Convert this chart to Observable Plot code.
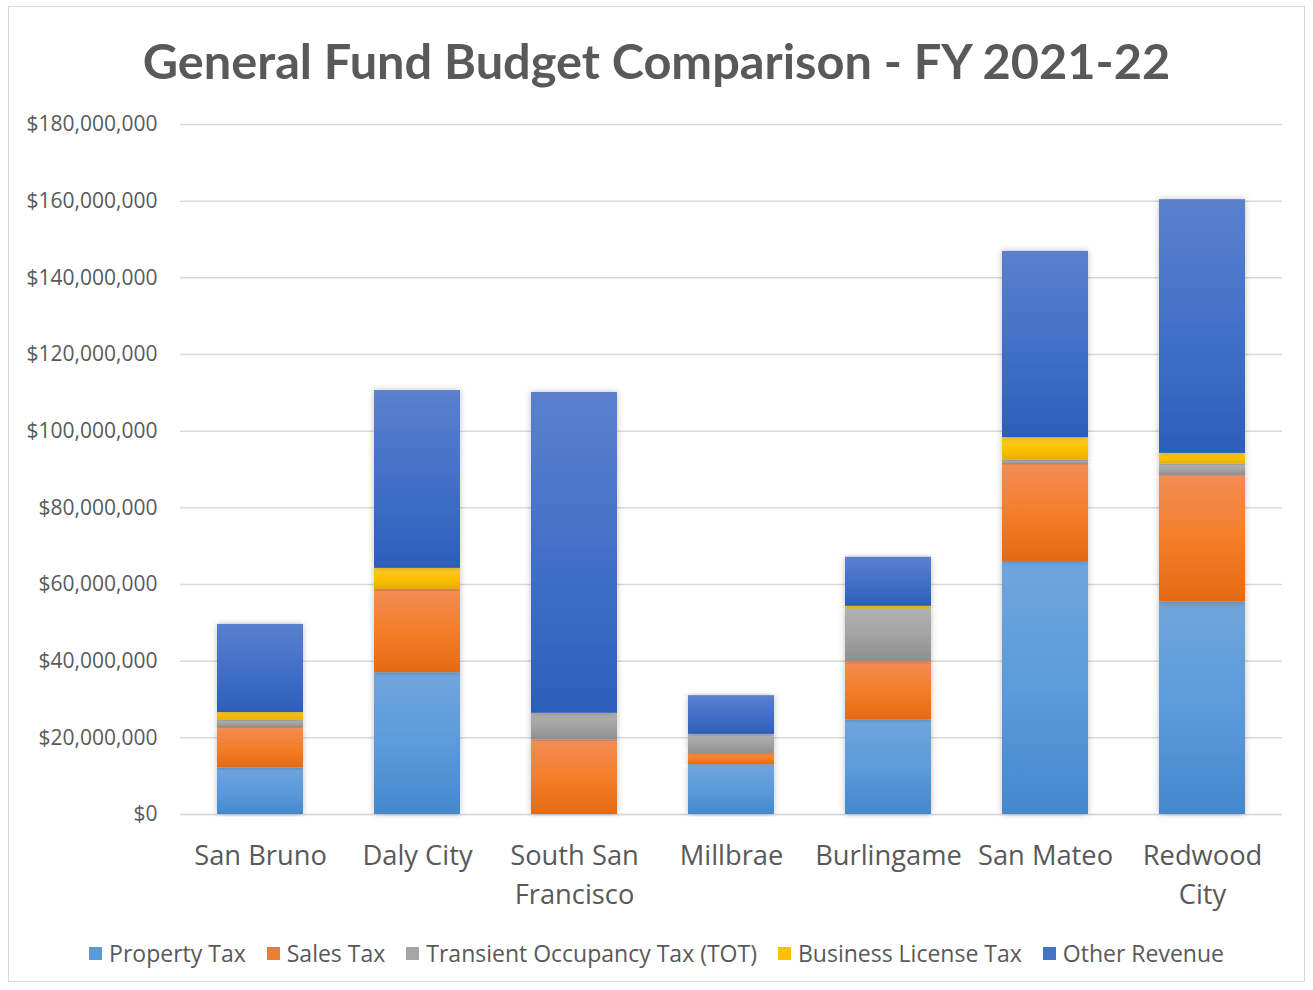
<!DOCTYPE html>
<html>
<head>
<meta charset="utf-8">
<script src="https://cdn.jsdelivr.net/npm/d3@7"></script>
<script src="https://cdn.jsdelivr.net/npm/@observablehq/plot@0.6"></script>
<style>
  html, body { margin: 0; padding: 0; background: #fff; }
  #wrap { position: relative; width: 1297px; height: 976px; margin: 6px 0 0 8px; border: 1.5px solid #d9d9d9; box-sizing: border-box; overflow: hidden; }
  #title { position: absolute; left: 0; right: 0; top: 29px; text-align: center; font-family: Lato, "Open Sans", sans-serif; font-weight: 700; font-size: 48.7px; color: #595959; line-height: 1; }
  #chart { position: absolute; left: -9.5px; top: -7.5px; width: 1313px; height: 990px; }
  #chart svg { max-width: none !important; }
  #legend { position: absolute; left: 0; right: 0; top: 930px; display: flex; justify-content: center; gap: 21px; font-family: "Open Sans", Lato, sans-serif; font-size: 23px; color: #595959; }
  #legend .item { display: flex; align-items: center; gap: 7px; }
  #legend .sw { width: 13px; height: 13px; display: inline-block; }
</style>
</head>
<body>
<svg width="0" height="0" style="position:absolute">
  <defs>
    <linearGradient id="gProp" x1="0" y1="0" x2="0" y2="1">
      <stop offset="0" stop-color="#70a5dc"/><stop offset="0.5" stop-color="#5b9bdc"/><stop offset="1" stop-color="#4588cc"/>
    </linearGradient>
    <linearGradient id="gSales" x1="0" y1="0" x2="0" y2="1">
      <stop offset="0" stop-color="#f28d55"/><stop offset="0.5" stop-color="#f47e2a"/><stop offset="1" stop-color="#e46a14"/>
    </linearGradient>
    <linearGradient id="gTot" x1="0" y1="0" x2="0" y2="1">
      <stop offset="0" stop-color="#b2b2b2"/><stop offset="0.5" stop-color="#a3a3a3"/><stop offset="1" stop-color="#8e8e8e"/>
    </linearGradient>
    <linearGradient id="gBiz" x1="0" y1="0" x2="0" y2="1">
      <stop offset="0" stop-color="#ffcc33"/><stop offset="0.5" stop-color="#fcc200"/><stop offset="1" stop-color="#e6ae00"/>
    </linearGradient>
    <linearGradient id="gOther" x1="0" y1="0" x2="0" y2="1">
      <stop offset="0" stop-color="#5b80cc"/><stop offset="0.5" stop-color="#4370c8"/><stop offset="1" stop-color="#2c5fb9"/>
    </linearGradient>
    <filter id="shadow" x="-20%" y="-5%" width="140%" height="110%">
      <feDropShadow dx="0" dy="0" stdDeviation="3" flood-color="#000" flood-opacity="0.25"/>
    </filter>
  </defs>
</svg>
<div id="wrap">
  <div id="title">General Fund Budget Comparison - FY 2021-22</div>
  <div id="chart"></div>
  <div id="legend"></div>
</div>
<script>
// Data (values in millions of dollars)
const cities = ["San Bruno", "Daly City", "South San Francisco", "Millbrae", "Burlingame", "San Mateo", "Redwood City"];
const cityLabels = ["San Bruno", "Daly City", "South San\nFrancisco", "Millbrae", "Burlingame", "San Mateo", "Redwood\nCity"];
const seriesNames = ["Property Tax", "Sales Tax", "Transient Occupancy Tax (TOT)", "Business License Tax", "Other Revenue"];
const propertyTax = [12.1, 37.0, 0, 13.0, 24.6, 66.0, 55.4];
const salesTax = [10.6, 21.7, 19.4, 2.9, 15.3, 25.3, 33.0];
const totTax = [1.9, 0, 7.0, 5.0, 13.7, 1.1, 3.0];
const businessLicenseTax = [2.0, 5.5, 0, 0, 0.7, 5.9, 2.8];
const otherRevenue = [23.0, 46.4, 83.7, 10.1, 12.8, 48.6, 66.2];
const yTicks = [0, 20e6, 40e6, 60e6, 80e6, 100e6, 120e6, 140e6, 160e6, 180e6];
const fills = ["url(#gProp)", "url(#gSales)", "url(#gTot)", "url(#gBiz)", "url(#gOther)"];
const swatch = ["#5b9bd5", "#ed7d31", "#a5a5a5", "#ffc000", "#4472c4"];

const seriesValues = [propertyTax, salesTax, totTax, businessLicenseTax, otherRevenue];
const rows = [];
seriesValues.forEach((vals, si) => {
  cities.forEach((c, ci) => rows.push({city: c, series: seriesNames[si], value: vals[ci] * 1e6}));
});
const labelOf = new Map(cities.map((c, i) => [c, cityLabels[i]]));

const chart = Plot.plot({
  width: 1313,
  height: 990,
  marginTop: 124,
  marginBottom: 176,
  marginLeft: 180,
  marginRight: 31,
  style: {fontFamily: "'Open Sans', Lato, sans-serif", color: "#595959", background: "transparent", maxWidth: "none"},
  x: {domain: cities, paddingInner: 0.453, paddingOuter: 0.2265, label: null},
  y: {domain: [0, 180e6], ticks: yTicks, label: null},
  color: {domain: seriesNames, range: fills, legend: false},
  marks: [
    Plot.gridY(yTicks, {stroke: "#d9d9d9", strokeOpacity: 1, strokeWidth: 1.5}),
    Plot.ruleY([0], {stroke: "#d9d9d9", strokeWidth: 1.5}),
    Plot.barY(rows, {x: "city", y: "value", fill: "series", order: seriesNames}),
    Plot.axisY(yTicks, {tickSize: 0, tickPadding: 23, fontSize: 21, tickFormat: d => "$" + d3.format(",")(d), fill: "#595959"}),
    Plot.axisX({tickSize: 0, tickPadding: 22, fontSize: 27.3, lineHeight: 1.45, tickFormat: d => labelOf.get(d), fill: "#595959"})
  ]
});
document.getElementById("chart").appendChild(chart);
// soft shadow around bars
chart.querySelectorAll("g[aria-label='bar'] rect").forEach(r => r.setAttribute("filter", "url(#shadow)"));

const legend = document.getElementById("legend");
seriesNames.forEach((s, i) => {
  const item = document.createElement("div");
  item.className = "item";
  const sw = document.createElement("span");
  sw.className = "sw";
  sw.style.background = swatch[i];
  const t = document.createElement("span");
  t.textContent = s;
  item.appendChild(sw); item.appendChild(t);
  legend.appendChild(item);
});
</script>
</body>
</html>
